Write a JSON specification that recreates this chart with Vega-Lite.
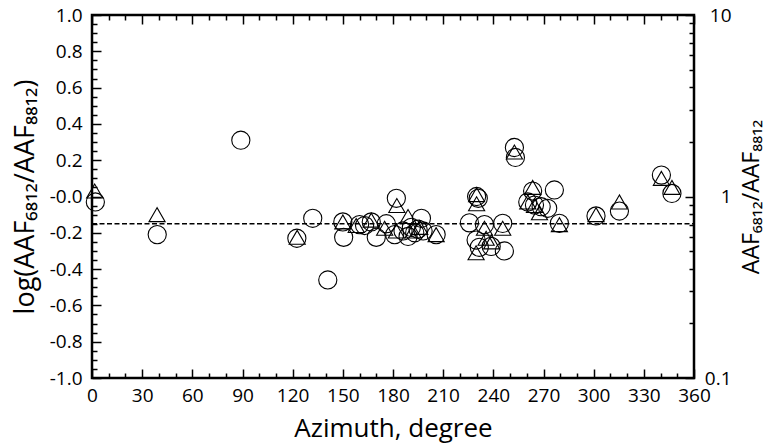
{
  "$schema": "https://vega.github.io/schema/vega-lite/v6.json",
  "width": 602,
  "height": 363,
  "autosize": {"type": "none"},
  "padding": {"left": 92, "top": 15, "right": 75, "bottom": 66},
  "background": "white",
  "config": {
    "view": {"stroke": "black", "strokeWidth": 2.5},
    "font": "Open Sans",
    "axis": {
      "domain": false,
      "grid": false,
      "tickColor": "black",
      "tickWidth": 1.5,
      "labelColor": "black",
      "labelFont": "Open Sans",
      "labelFontSize": 19,
      "labelFlush": false,
      "labelOverlap": false,
      "titleColor": "black",
      "titleFont": "Open Sans",
      "titleFontWeight": "normal"
    }
  },
  "datasets": {
    "circles": [
      {"az": 2, "v": -0.03}, {"az": 39, "v": -0.21}, {"az": 89, "v": 0.31}, {"az": 122.5, "v": -0.23},
      {"az": 132, "v": -0.12}, {"az": 141, "v": -0.46}, {"az": 150, "v": -0.14}, {"az": 150.5, "v": -0.225},
      {"az": 160, "v": -0.155}, {"az": 163, "v": -0.16}, {"az": 167, "v": -0.14}, {"az": 170, "v": -0.225},
      {"az": 176, "v": -0.15}, {"az": 181, "v": -0.21}, {"az": 182, "v": -0.01}, {"az": 186, "v": -0.19},
      {"az": 189, "v": -0.22}, {"az": 191, "v": -0.17}, {"az": 193, "v": -0.2}, {"az": 195, "v": -0.18},
      {"az": 197, "v": -0.12}, {"az": 198, "v": -0.19}, {"az": 205.8, "v": -0.21}, {"az": 225.7, "v": -0.145},
      {"az": 230, "v": 0.0}, {"az": 231, "v": -0.01}, {"az": 229.7, "v": -0.24}, {"az": 231.6, "v": -0.28},
      {"az": 234.7, "v": -0.155}, {"az": 238.7, "v": -0.275}, {"az": 245.6, "v": -0.148}, {"az": 246.6, "v": -0.3},
      {"az": 252.6, "v": 0.27}, {"az": 253.2, "v": 0.215}, {"az": 263.5, "v": 0.03}, {"az": 260.6, "v": -0.03},
      {"az": 264.6, "v": -0.047}, {"az": 268.6, "v": -0.056}, {"az": 272.5, "v": -0.065}, {"az": 276.5, "v": 0.036},
      {"az": 279.5, "v": -0.148}, {"az": 301.4, "v": -0.107}, {"az": 315.4, "v": -0.08}, {"az": 340.5, "v": 0.118},
      {"az": 346.8, "v": 0.017}
    ],
    "triangles": [
      {"az": 1.6, "v": 0.03}, {"az": 38.9, "v": -0.1}, {"az": 122.7, "v": -0.225}, {"az": 150, "v": -0.14},
      {"az": 158, "v": -0.16}, {"az": 167, "v": -0.13}, {"az": 175, "v": -0.175}, {"az": 182.3, "v": -0.05},
      {"az": 182, "v": -0.19}, {"az": 189, "v": -0.11}, {"az": 192, "v": -0.19}, {"az": 196, "v": -0.17},
      {"az": 205.8, "v": -0.21}, {"az": 230, "v": 0.01}, {"az": 230, "v": -0.04}, {"az": 229.7, "v": -0.31},
      {"az": 234.7, "v": -0.175}, {"az": 235.7, "v": -0.23}, {"az": 239, "v": -0.25}, {"az": 245.6, "v": -0.175},
      {"az": 252.6, "v": 0.245}, {"az": 263.5, "v": 0.05}, {"az": 260.6, "v": -0.03}, {"az": 264.6, "v": -0.05},
      {"az": 267.6, "v": -0.09}, {"az": 279.5, "v": -0.155}, {"az": 301.4, "v": -0.1}, {"az": 315.4, "v": -0.03},
      {"az": 340.5, "v": 0.1}, {"az": 346.8, "v": 0.05}
    ],
    "reference": [{"v": -0.15, "ratio": 0.708}]
  },
  "layer": [
    {
      "data": {"name": "circles"},
      "mark": {"type": "point", "shape": "circle", "filled": false, "color": "black", "strokeWidth": 1.1, "size": 330, "opacity": 1},
      "encoding": {
        "x": {
          "field": "az", "type": "quantitative",
          "scale": {"domain": [0, 360], "nice": false, "zero": false},
          "axis": {
            "orient": "bottom",
            "values": [0, 30, 60, 90, 120, 150, 180, 210, 240, 270, 300, 330, 360],
            "tickSize": -9, "labelPadding": 17,
            "title": "Azimuth, degree", "titleFontSize": 26, "titlePadding": 10
          }
        },
        "y": {
          "field": "v", "type": "quantitative",
          "scale": {"domain": [-1, 1], "nice": false, "zero": false},
          "axis": {
            "orient": "left",
            "values": [-1, -0.8, -0.6, -0.4, -0.2, 0, 0.2, 0.4, 0.6, 0.8, 1],
            "labelExpr": "datum.value == 0 ? '-0.0' : (datum.value < 0 ? '-' : '') + format(abs(datum.value), '.1f')",
            "tickSize": -9, "labelPadding": 19,
            "title": "log(AAF₆₈₁₂/AAF₈₈₁₂)", "titleFontSize": 27, "titlePadding": 10
          }
        }
      }
    },
    {
      "data": {"name": "triangles"},
      "mark": {"type": "point", "shape": "triangle-up", "filled": false, "color": "black", "strokeWidth": 1.1, "size": 260, "opacity": 1},
      "encoding": {
        "x": {
          "field": "az", "type": "quantitative",
          "scale": {"domain": [0, 360], "nice": false, "zero": false},
          "axis": {
            "orient": "bottom",
            "values": [10, 20, 40, 50, 70, 80, 100, 110, 130, 140, 160, 170, 190, 200, 220, 230, 250, 260, 280, 290, 310, 320, 340, 350],
            "tickSize": -5, "labels": false, "title": null
          }
        },
        "y": {
          "field": "v", "type": "quantitative",
          "scale": {"domain": [-1, 1], "nice": false, "zero": false},
          "axis": {
            "orient": "left",
            "values": [-0.95, -0.9, -0.85, -0.75, -0.7, -0.65, -0.55, -0.5, -0.45, -0.35, -0.3, -0.25, -0.15, -0.1, -0.05, 0.05, 0.1, 0.15, 0.25, 0.3, 0.35, 0.45, 0.5, 0.55, 0.65, 0.7, 0.75, 0.85, 0.9, 0.95],
            "tickSize": -5, "labels": false, "title": null
          }
        }
      }
    },
    {
      "data": {"name": "reference"},
      "mark": {"type": "rule", "color": "black", "strokeWidth": 1.5, "strokeDash": [5, 2.5]},
      "encoding": {
        "x": {
          "datum": 0, "type": "quantitative",
          "scale": {"domain": [0, 360], "nice": false, "zero": false},
          "axis": {
            "orient": "top",
            "values": [0, 30, 60, 90, 120, 150, 180, 210, 240, 270, 300, 330, 360],
            "tickSize": -9, "labels": false, "title": null
          }
        },
        "x2": {"datum": 360},
        "y": {
          "field": "v", "type": "quantitative",
          "scale": {"domain": [-1, 1], "nice": false, "zero": false},
          "axis": null
        }
      }
    },
    {
      "data": {"name": "reference"},
      "mark": {"type": "rule", "color": "black", "strokeOpacity": 0},
      "encoding": {
        "x": {
          "datum": 0, "type": "quantitative",
          "scale": {"domain": [0, 360], "nice": false, "zero": false},
          "axis": {
            "orient": "top",
            "values": [10, 20, 40, 50, 70, 80, 100, 110, 130, 140, 160, 170, 190, 200, 220, 230, 250, 260, 280, 290, 310, 320, 340, 350],
            "tickSize": -5, "labels": false, "title": null
          }
        },
        "x2": {"datum": 360},
        "y": {
          "field": "ratio", "type": "quantitative",
          "scale": {"type": "log", "domain": [0.1, 10], "nice": false},
          "axis": {
            "orient": "right",
            "values": [0.1, 1, 10],
            "labelExpr": "datum.value >= 1 ? format(datum.value, 'd') : format(datum.value, '.1f')",
            "tickSize": -9, "labelPadding": 46, "labelAlign": "right",
            "title": "AAF₆₈₁₂/AAF₈₈₁₂", "titleFontSize": 23, "titleAngle": 270, "titleBaseline": "top", "titlePadding": 9
          }
        }
      }
    },
    {
      "data": {"name": "reference"},
      "mark": {"type": "rule", "color": "black", "strokeOpacity": 0},
      "encoding": {
        "x": {
          "datum": 0, "type": "quantitative",
          "scale": {"domain": [0, 360], "nice": false, "zero": false},
          "axis": null
        },
        "x2": {"datum": 360},
        "y": {
          "field": "ratio", "type": "quantitative",
          "scale": {"type": "log", "domain": [0.1, 10], "nice": false},
          "axis": {
            "orient": "right",
            "values": [0.2, 0.3, 0.4, 0.5, 0.6, 0.7, 0.8, 0.9, 2, 3, 4, 5, 6, 7, 8, 9],
            "tickSize": -5, "labels": false, "title": null
          }
        }
      }
    }
  ],
  "resolve": {"scale": {"x": "independent", "y": "independent"}}
}
